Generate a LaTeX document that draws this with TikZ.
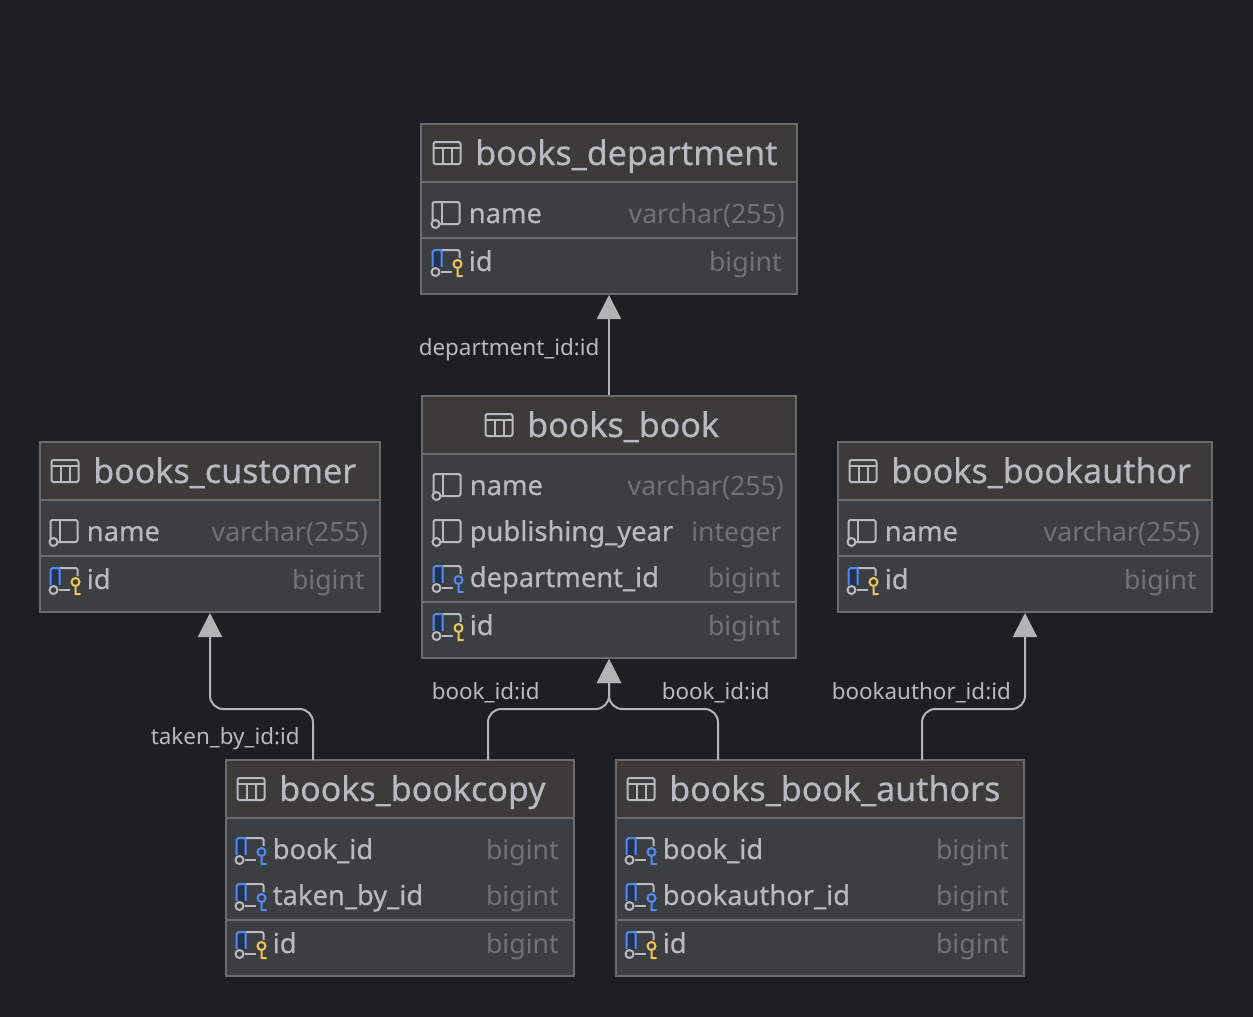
\documentclass[tikz,border=0pt]{standalone}
\usepackage{fontspec}
\setmainfont{Noto Sans}
\newfontfamily\medfont[FakeBold=0.4]{Noto Sans}
\usetikzlibrary{arrows.meta,fit}
\definecolor{canvas}{HTML}{1E1F22}
\definecolor{bodyfill}{HTML}{3C3F41}
\definecolor{headfill}{HTML}{3C3B3A}
\definecolor{edgeline}{HTML}{6B6B6B}
\definecolor{textcol}{HTML}{B8BAC0}
\definecolor{typecol}{HTML}{6F7377}
\definecolor{linkcol}{HTML}{B4B4B4}
\definecolor{keyblue}{HTML}{548AF7}
\definecolor{keygold}{HTML}{F2C55C}
\definecolor{navy}{HTML}{25324D}
\tikzset{
  tablebox/.style={draw=edgeline,line width=1.5pt,fill=bodyfill,inner sep=0pt},
  sepline/.style={edgeline,line width=1.5pt},
  titletext/.style={anchor=base west,inner sep=0pt,text=textcol,font=\medfont\fontsize{25.5}{26}\selectfont},
  rowtext/.style={anchor=base west,inner sep=0pt,text=textcol,font=\medfont\fontsize{20.5}{24}\selectfont},
  typetext/.style={anchor=base east,inner sep=0pt,text=typecol,font=\fontsize{20}{24}\selectfont},
  linktext/.style={anchor=base west,inner sep=0pt,text=textcol,font=\fontsize{16.8}{20}\selectfont},
  fk/.style={draw=linkcol,line width=1.5pt,rounded corners=10pt,-{Triangle[length=18pt,width=18pt,fill=linkcol]}},
  iconline/.style={textcol,line width=1.5pt,line join=round},
  pics/gridicon/.style={code={
    \draw[iconline,rounded corners=1.5pt] (0,-11) rectangle (27,11);
    \draw[iconline] (0,-5) -- (27,-5) (9,-5) -- (9,11) (18,-5) -- (18,11);
  }},
  pics/colicon/.style={code={
    \draw[iconline,rounded corners=1.5pt] (0,-11) rectangle (27,11);
    \draw[iconline] (9,-11) -- (9,11);
    \draw[iconline,fill=bodyfill] (3,11) circle (4);
  }},
  pics/keyicon/.style={code={
    \draw[fill=navy,draw=none] (0,-11) rectangle (9,7);
    \draw[iconline,rounded corners=1.5pt] (9,-11) -- (27,-11) -- (27,-3);
    \draw[iconline] (8,11) -- (19,11);
    \draw[line width=1.5pt,keyblue] (9,-11) -- (2,-11) -- (0,-9) -- (0,6) (9,-11) -- (9,6);
    \draw[iconline,fill=bodyfill] (3,11) circle (4);
  }},
  pics/fkicon/.style={code={
    \pic {keyicon};
    \draw[line width=1.5pt,keyblue,fill=bodyfill] (25,3) circle (4) (25,7) -- (25,16) (25,15) -- (30,15);
  }},
  pics/pkicon/.style={code={
    \pic {keyicon};
    \draw[line width=1.5pt,keygold,fill=bodyfill] (25,3) circle (4) (25,7) -- (25,16) (25,15) -- (30,15);
  }},
}
% #1 node name, #2 icon x, #3 centre y, #4 text
\newcommand{\tabletitle}[4]{
  \pic at (#2+0.5,#3) {gridicon};
  \node[titletext] (#1) at (#2+42,#3+12) {#4};
}
% #1 node name, #2 icon, #3 icon x, #4 centre y, #5 text, #6 type, #7 type right end
\newcommand{\colrow}[7]{
  \pic at (#3+0.5,#4-1) {#2};
  \node[rowtext] (#1) at (#3+36.5,#4+9) {#5};
  \node[typetext] (#1type) at (#7,#4+9) {#6};
}
\begin{document}
\begin{tikzpicture}[x=0.75pt,y=-0.75pt]
\useasboundingbox[fill=canvas] (0,0) rectangle (1253,1017);

% department
\node[tablebox,fit={(421,124) (797,294)}] (department) {};
\fill[headfill] (421,124) rectangle (797,182);
\draw[sepline] (421,124) rectangle (797,294);
\draw[sepline] (421,182) -- (797,182) (421,238) -- (797,238);
\tabletitle{departmenttitle}{433}{153}{books\_department}
\colrow{departmentname}{colicon}{432}{214}{name}{varchar(255)}{785}
\colrow{departmentid}{pkicon}{432}{262}{id}{bigint}{782}

% book
\node[tablebox,fit={(422,396) (796,658)}] (book) {};
\fill[headfill] (422,396) rectangle (796,454);
\draw[sepline] (422,396) rectangle (796,658);
\draw[sepline] (422,454) -- (796,454) (422,602) -- (796,602);
\tabletitle{booktitle}{485}{425}{books\_book}
\colrow{bookname}{colicon}{433}{486}{name}{varchar(255)}{784}
\colrow{bookyear}{colicon}{433}{532}{publishing\_year}{integer}{782}
\colrow{bookdept}{fkicon}{433}{578}{department\_id}{bigint}{781}
\colrow{bookid}{pkicon}{433}{626}{id}{bigint}{781}

% customer
\node[tablebox,fit={(40,442) (380,612)}] (customer) {};
\fill[headfill] (40,442) rectangle (380,500);
\draw[sepline] (40,442) rectangle (380,612);
\draw[sepline] (40,500) -- (380,500) (40,556) -- (380,556);
\tabletitle{customertitle}{51}{471}{books\_customer}
\colrow{customername}{colicon}{50}{532}{name}{varchar(255)}{368}
\colrow{customerid}{pkicon}{50}{580}{id}{bigint}{365}

% bookauthor
\node[tablebox,fit={(838,442) (1212,612)}] (bookauthor) {};
\fill[headfill] (838,442) rectangle (1212,500);
\draw[sepline] (838,442) rectangle (1212,612);
\draw[sepline] (838,500) -- (1212,500) (838,556) -- (1212,556);
\tabletitle{bookauthortitle}{849}{471}{books\_bookauthor}
\colrow{bookauthorname}{colicon}{848}{532}{name}{varchar(255)}{1200}
\colrow{bookauthorid}{pkicon}{848}{580}{id}{bigint}{1197}

% bookcopy
\node[tablebox,fit={(226,760) (574,976)}] (bookcopy) {};
\fill[headfill] (226,760) rectangle (574,818);
\draw[sepline] (226,760) rectangle (574,976);
\draw[sepline] (226,818) -- (574,818) (226,920) -- (574,920);
\tabletitle{bookcopytitle}{237}{789}{books\_bookcopy}
\colrow{bookcopybook}{fkicon}{236}{850}{book\_id}{bigint}{559}
\colrow{bookcopytaken}{fkicon}{236}{896}{taken\_by\_id}{bigint}{559}
\colrow{bookcopyid}{pkicon}{236}{944}{id}{bigint}{559}

% book_authors
\node[tablebox,fit={(616,760) (1024,976)}] (bookauthors) {};
\fill[headfill] (616,760) rectangle (1024,818);
\draw[sepline] (616,760) rectangle (1024,976);
\draw[sepline] (616,818) -- (1024,818) (616,920) -- (1024,920);
\tabletitle{bookauthorstitle}{627}{789}{books\_book\_authors}
\colrow{bookauthorsbook}{fkicon}{626}{850}{book\_id}{bigint}{1009}
\colrow{bookauthorsauthor}{fkicon}{626}{896}{bookauthor\_id}{bigint}{1009}
\colrow{bookauthorsid}{pkicon}{626}{944}{id}{bigint}{1009}

% connectors
\coordinate (takenport) at (313,760);
\coordinate (copyport) at (488,760);
\coordinate (authorsport) at (718,760);
\coordinate (authorport) at (922,760);
\coordinate (bookbend) at (609,709);

\draw[fk,rounded corners=0pt] (book.north) -- (department.south);
\draw[fk] (takenport) -- (313,709) -- (210,709) -- (customer.south);
\draw[fk] (copyport) -- (488,709) -- (bookbend) -- (book.south);
\draw[fk] (authorsport) -- (718,709) -- (bookbend) -- (book.south);
\draw[fk] (authorport) -- (922,709) -- (1025,709) -- (bookauthor.south);

\node[linktext] (deptlabel) at (418.5,355) {department\_id:id};
\node[linktext] (takenlabel) at (150.5,744) {taken\_by\_id:id};
\node[linktext] (copylabel) at (431.5,699) {book\_id:id};
\node[linktext] (authorslabel) at (661.5,699) {book\_id:id};
\node[linktext] (authorlabel) at (831.5,699) {bookauthor\_id:id};
\end{tikzpicture}
\end{document}
